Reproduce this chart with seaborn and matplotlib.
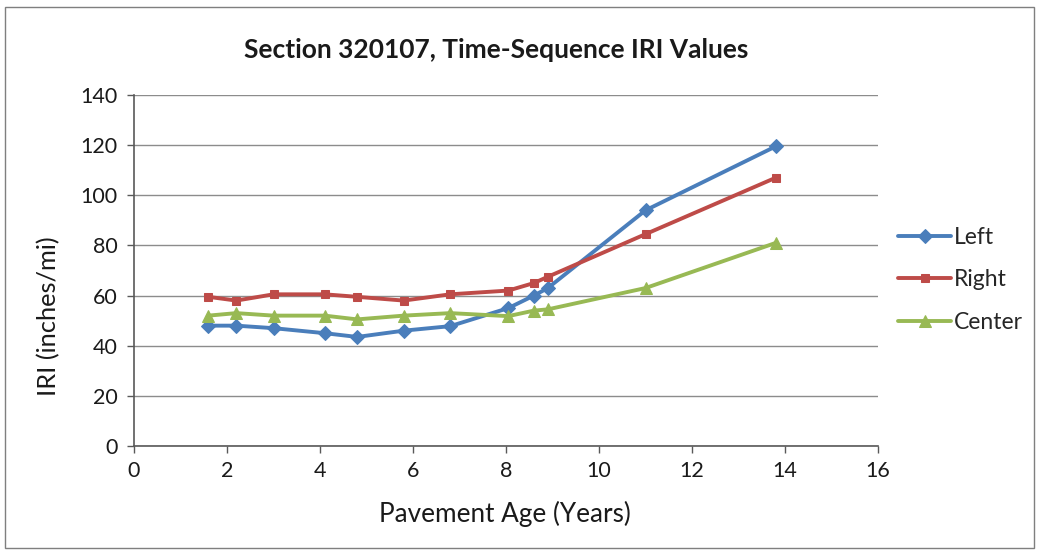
import matplotlib
matplotlib.use("Agg")
import matplotlib.pyplot as plt
import seaborn as sns
import pandas as pd
from matplotlib.patches import Rectangle

# Data
age = [1.6, 2.2, 3.0, 4.1, 4.8, 5.8, 6.8, 8.05, 8.6, 8.9, 11.0, 13.8]
left = [48, 48, 47, 45, 43.5, 46, 47.8, 55, 60, 63, 94, 119.5]
right = [59.5, 58, 60.5, 60.5, 59.5, 58, 60.5, 62, 65, 67.5, 84.5, 107]
center = [52, 53, 52, 52, 50.5, 52, 53, 51.8, 54, 54.5, 63, 81]

series_names = ["Left", "Right", "Center"]
colors = {"Left": "#4A7EBB", "Right": "#BE4B48", "Center": "#98B954"}
markers = {"Left": "D", "Right": "s", "Center": "^"}
msizes = {"Left": 7, "Right": 5.5, "Center": 8}

xticks = [0, 2, 4, 6, 8, 10, 12, 14, 16]
yticks = [0, 20, 40, 60, 80, 100, 120, 140]

df = pd.DataFrame({
    "Age": age * 3,
    "IRI": left + right + center,
    "Series": ["Left"] * len(age) + ["Right"] * len(age) + ["Center"] * len(age),
})

sns.set_theme(style="white")
plt.rcParams["font.family"] = ["Lato", "DejaVu Sans"]

fig = plt.figure(figsize=(10.39, 5.52), dpi=100)
ax = fig.add_axes([134 / 1039, 1 - 446 / 552, (878 - 134) / 1039, (446 - 95) / 552])

for name in series_names:
    sub = df[df["Series"] == name]
    sns.lineplot(data=sub, x="Age", y="IRI", ax=ax, color=colors[name],
                 marker=markers[name], markersize=msizes[name],
                 markeredgecolor=colors[name], linewidth=2.8, label=name,
                 errorbar=None, sort=False)

ax.set_xlim(0, 16)
ax.set_ylim(0, 140)
ax.set_xticks(xticks)
ax.set_yticks(yticks)
ax.yaxis.grid(True, color="#8C8C8C", linewidth=1)
ax.xaxis.grid(False)
ax.set_axisbelow(True)
for s in ["top", "right"]:
    ax.spines[s].set_visible(False)
for s in ["left", "bottom"]:
    ax.spines[s].set_color("#595959")
    ax.spines[s].set_linewidth(1.2)
ax.tick_params(axis="both", which="both", direction="out", length=5, width=1,
               color="#595959", labelsize=15.5, labelcolor="#1a1a1a",
               bottom=True, left=True)
ax.tick_params(axis="y", pad=7)
ax.tick_params(axis="x", pad=6)

ax.set_xlabel("Pavement Age (Years)", fontsize=18.8, color="#1a1a1a")
ax.set_ylabel("IRI (inches/mi)", fontsize=18.3, color="#1a1a1a")
ax.xaxis.set_label_coords(0.4987, -0.156)
ax.yaxis.set_label_coords(-0.0995, 0.37)

fig.text(496 / 1039, 1 - 50 / 552, "Section 320107, Time-Sequence IRI Values",
         ha="center", va="center", fontsize=19, fontweight="bold", color="#1a1a1a")

leg = ax.legend(loc="center left", bbox_to_anchor=(1.0148, 0.473), frameon=False,
                fontsize=16.5, handlelength=2.3, labelspacing=0.95, handletextpad=0.15,
                borderaxespad=0.0)

fig.patches.append(Rectangle((5 / 1039, 4 / 552), 1029 / 1039, 541 / 552,
                             transform=fig.transFigure, fill=False,
                             edgecolor="#7f7f7f", linewidth=1))

fig.savefig("out.png", dpi=100)
